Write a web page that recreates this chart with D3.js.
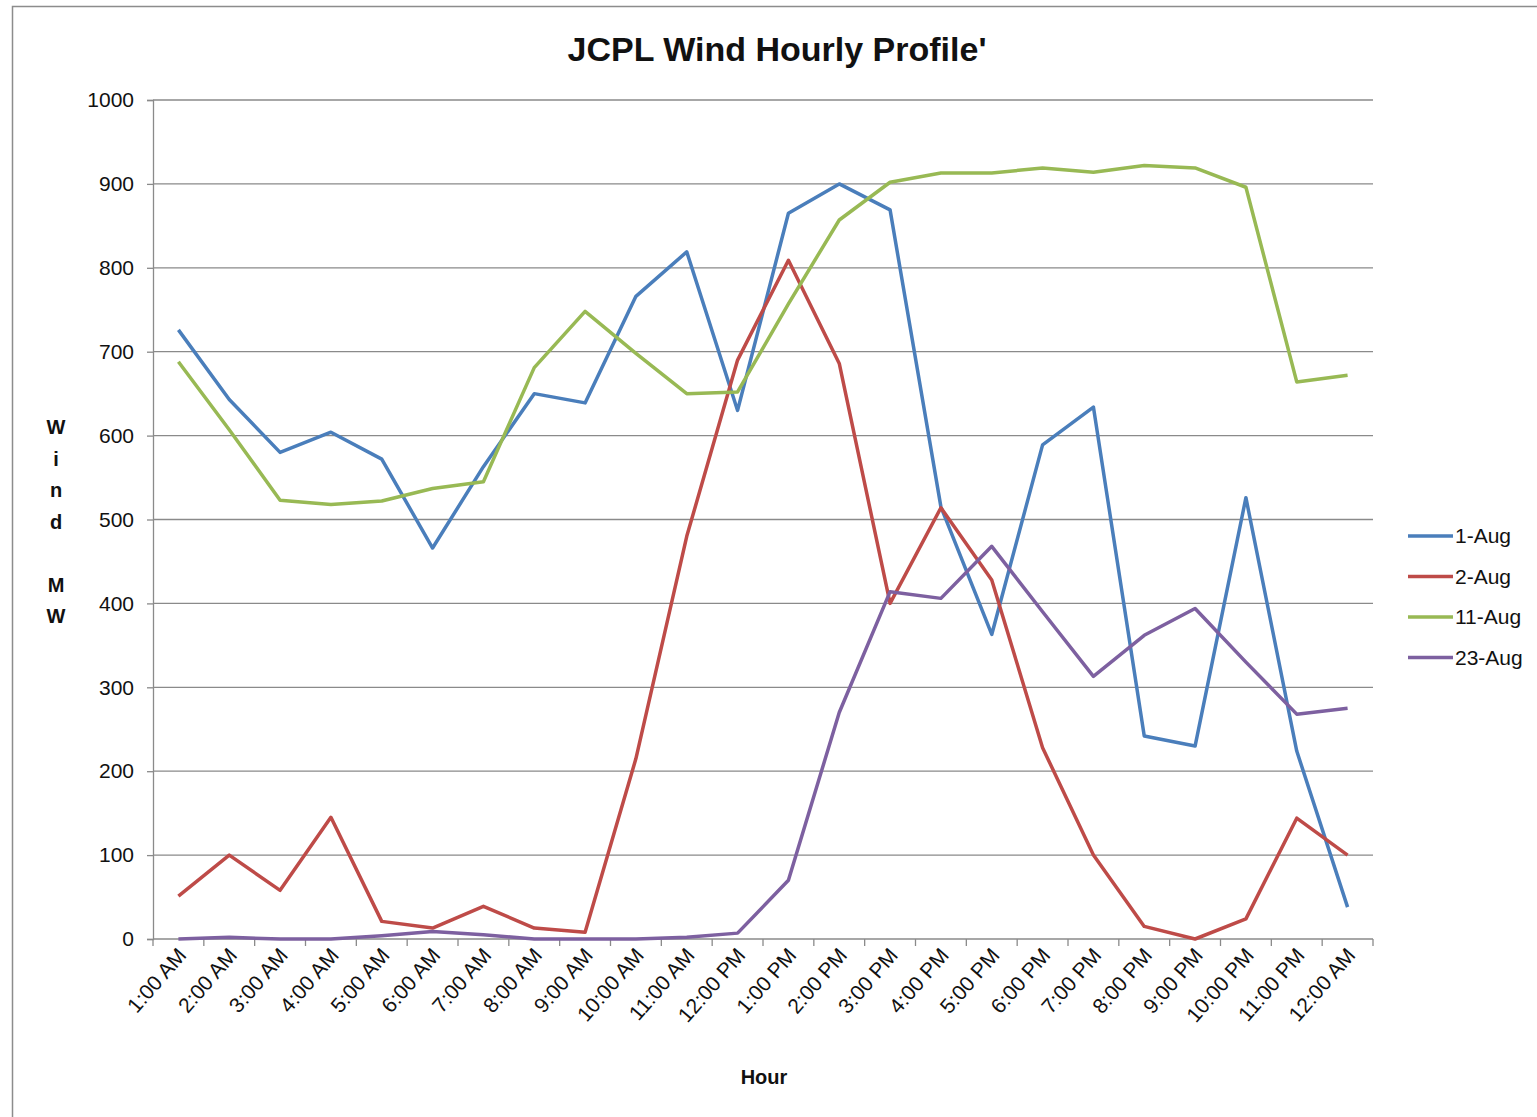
<!DOCTYPE html>
<html>
<head>
<meta charset="utf-8">
<script src="https://cdn.jsdelivr.net/npm/d3@7"></script>
<style>
  body { margin: 0; background: #fff; }
  svg { display: block; font-family: "Liberation Sans", Arial, sans-serif; }
</style>
</head>
<body>
<div id="chart"></div>
<script>
// hours on the x axis
var hours = ["1:00 AM", "2:00 AM", "3:00 AM", "4:00 AM", "5:00 AM", "6:00 AM",
  "7:00 AM", "8:00 AM", "9:00 AM", "10:00 AM", "11:00 AM", "12:00 PM",
  "1:00 PM", "2:00 PM", "3:00 PM", "4:00 PM", "5:00 PM", "6:00 PM",
  "7:00 PM", "8:00 PM", "9:00 PM", "10:00 PM", "11:00 PM", "12:00 AM"];

var aug1 = [726, 643, 580, 604, 572, 466, 563, 650, 639, 766, 819, 630,
  865, 900, 869, 515, 363, 589, 634, 242, 230, 526, 224, 38];
var aug2 = [51, 100, 58, 145, 21, 13, 39, 13, 8, 215, 480, 690,
  809, 686, 400, 514, 428, 228, 100, 15, 0, 24, 144, 100];
var aug11 = [688, 607, 523, 518, 522, 537, 545, 681, 748, 698, 650, 652,
  757, 857, 902, 913, 913, 919, 914, 922, 919, 896, 664, 672];
var aug23 = [0, 2, 0, 0, 4, 9, 5, 0, 0, 0, 2, 7,
  70, 270, 414, 406, 468, 390, 313, 362, 394, 330, 268, 275];

var seriesNames = ["1-Aug", "2-Aug", "11-Aug", "23-Aug"];
var seriesColors = ["#4a7ebb", "#be4b48", "#98b954", "#7d60a0"];
var yTicks = [0, 100, 200, 300, 400, 500, 600, 700, 800, 900, 1000];

var width = 1537, height = 1117;
var plotLeft = 153, plotRight = 1373, plotTop = 100, plotBottom = 939;

var svg = d3.select("#chart").append("svg")
  .attr("width", width)
  .attr("height", height);

// outer frame of the chart area
svg.append("path")
  .attr("d", "M12.5," + height + "V6.5H" + width)
  .attr("fill", "none")
  .attr("stroke", "#8c8c8c")
  .attr("stroke-width", 1.5);

var x = d3.scaleBand().domain(hours).range([plotLeft, plotRight]);
var y = d3.scaleLinear().domain([0, 1000]).range([plotBottom, plotTop]);

// gridlines
svg.append("g")
  .selectAll("line")
  .data(yTicks.filter(function(d) { return d > 0; }))
  .enter().append("line")
  .attr("x1", plotLeft).attr("x2", plotRight)
  .attr("y1", function(d) { return y(d); })
  .attr("y2", function(d) { return y(d); })
  .attr("stroke", "#8a8a8a")
  .attr("stroke-width", 1.3);

// y axis
var yAxis = d3.axisLeft(y).tickValues(yTicks).tickFormat(d3.format("d"))
  .tickSize(6).tickPadding(13);
var gy = svg.append("g")
  .attr("transform", "translate(" + plotLeft + ",0)")
  .call(yAxis);
gy.select(".domain").attr("stroke", "#8a8a8a").attr("stroke-width", 1.3);
gy.selectAll(".tick line").attr("stroke", "#8a8a8a").attr("stroke-width", 1.3);
gy.selectAll(".tick text")
  .attr("fill", "#111")
  .style("font-size", "21px")
  .style("font-family", "Liberation Sans, Arial, sans-serif");

// x axis with ticks between categories
var gx = svg.append("g")
  .attr("transform", "translate(0," + plotBottom + ")");
gx.append("line")
  .attr("x1", plotLeft).attr("x2", plotRight)
  .attr("stroke", "#8a8a8a").attr("stroke-width", 1.3);
var bounds = hours.map(function(h) { return x(h); }).concat([plotRight]);
gx.selectAll("line.tk")
  .data(bounds)
  .enter().append("line")
  .attr("class", "tk")
  .attr("x1", function(d) { return d; })
  .attr("x2", function(d) { return d; })
  .attr("y1", 0).attr("y2", 7)
  .attr("stroke", "#8a8a8a").attr("stroke-width", 1.3);
gx.selectAll("text")
  .data(hours)
  .enter().append("text")
  .attr("text-anchor", "end")
  .attr("fill", "#111")
  .style("font-size", "21px")
  .attr("transform", function(d) {
    return "translate(" + (x(d) + x.bandwidth() / 2 + 9) + ",17)rotate(-49)";
  })
  .text(function(d) { return d; });

// lines
var allSeries = [aug1, aug2, aug11, aug23];
var line = d3.line()
  .x(function(d, i) { return x(hours[i]) + x.bandwidth() / 2; })
  .y(function(d) { return y(d); });

svg.append("g")
  .selectAll("path")
  .data(allSeries)
  .enter().append("path")
  .attr("d", line)
  .attr("fill", "none")
  .attr("stroke", function(d, i) { return seriesColors[i]; })
  .attr("stroke-width", 3.5)
  .attr("stroke-linejoin", "round");

// title
svg.append("text")
  .attr("x", 777).attr("y", 61)
  .attr("text-anchor", "middle")
  .style("font-size", "34px")
  .style("font-weight", "bold")
  .attr("fill", "#111")
  .text("JCPL Wind Hourly Profile'");

// x axis title
svg.append("text")
  .attr("x", 764).attr("y", 1084)
  .attr("text-anchor", "middle")
  .style("font-size", "20px")
  .style("font-weight", "bold")
  .attr("fill", "#111")
  .text("Hour");

// y axis title, stacked letters
var yTitle = ["W", "i", "n", "d", "", "M", "W"];
svg.append("g")
  .selectAll("text")
  .data(yTitle)
  .enter().append("text")
  .attr("x", 56)
  .attr("y", function(d, i) { return 434 + i * 31.5; })
  .attr("text-anchor", "middle")
  .style("font-size", "20px")
  .style("font-weight", "bold")
  .attr("fill", "#111")
  .text(function(d) { return d; });

// legend
var legend = svg.append("g")
  .selectAll("g")
  .data(seriesNames)
  .enter().append("g")
  .attr("transform", function(d, i) { return "translate(1408," + (536 + i * 40.5) + ")"; });
legend.append("line")
  .attr("x1", 0).attr("x2", 45)
  .attr("stroke", function(d, i) { return seriesColors[i]; })
  .attr("stroke-width", 3.5);
legend.append("text")
  .attr("x", 47).attr("y", 7)
  .style("font-size", "21px")
  .attr("fill", "#111")
  .text(function(d) { return d; });
</script>
</body>
</html>
